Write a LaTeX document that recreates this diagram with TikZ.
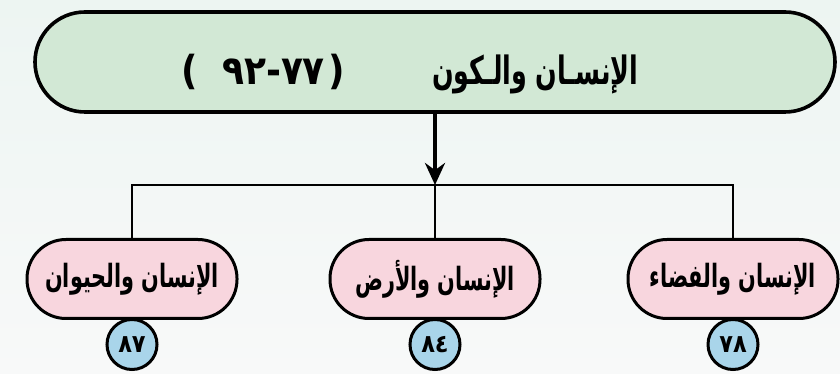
\documentclass[tikz,border=0pt]{standalone}
\usepackage{fontspec}
\newfontfamily\arabicfont[Script=Arabic, FakeStretch=0.65]{DejaVu Sans}
\newfontfamily\arabicnum[Script=Arabic, FakeStretch=0.9]{DejaVu Sans}
\newfontfamily\latinparen[FakeStretch=0.9]{DejaVu Sans}
\TeXXeTstate=1
\usetikzlibrary{arrows.meta, positioning}
\definecolor{kawngreen}{HTML}{D2E8D5}
\definecolor{kawnpink}{HTML}{F8D6DE}
\definecolor{kawnblue}{HTML}{A9D5EA}
\definecolor{kawnbgtop}{HTML}{EDF5F2}
\definecolor{kawnbgbot}{HTML}{F8F9F9}
\tikzset{
  >={Stealth[length=22pt, width=20pt]},
  topic/.style={rectangle, rounded corners=50pt, draw=black, line width=3.6pt,
                fill=kawngreen, minimum width=800pt, minimum height=100pt},
  branch/.style={rectangle, rounded corners=39pt, draw=black, line width=3pt,
                 fill=kawnpink, minimum width=210pt, minimum height=79pt, inner sep=0pt,
                 font=\arabicfont\bfseries\fontsize{32}{34}\selectfont},
  pagedot/.style={circle, draw=black, line width=3pt, fill=kawnblue,
                  minimum size=50pt, inner sep=0pt,
                  font=\arabicnum\bfseries\fontsize{25}{28}\selectfont},
  link/.style={draw=black, line width=2.4pt},
  linkb/.style={->, draw=black, line width=4pt},
}
\begin{document}
\begin{tikzpicture}[x=1pt,y=1pt]
  \shade[top color=kawnbgtop, bottom color=kawnbgbot] (0,0) rectangle (840,374);
  \useasboundingbox (0,0) rectangle (840,374);
  % main topic with page range
  \node[topic] (kawn) at (435,312) {};
  \node[font=\arabicfont\bfseries\fontsize{39}{44}\selectfont, anchor=east]
    (kawntitle) at (642,300) {\beginR الإنسـان والـكون\endR};
  \node[font=\arabicnum\bfseries\fontsize{40}{44}\selectfont, anchor=east]
    (kawnrange) at (349,302)
    {{\latinparen(}\hspace{24pt}٧٧-٩٢\hspace{4pt}{\latinparen)}};
  % three lessons, right to left
  \node[branch] (space) at (733,95) {\beginR الإنسان والفضاء\endR};
  \node[branch] (earth) at (435,95) {\beginR الإنسان والأرض\endR};
  \node[branch] (animal) at (132,95) {\beginR الإنسان والحيوان\endR};
  \foreach \b/\p in {space/٧٨, earth/٨٤, animal/٨٧}{
    \node[pagedot, below=-2pt of \b] (\b-page) {\p};
  }
  \coordinate (hub) at (435,189);
  \draw[link] (animal.north) |- (hub) -| (space.north);
  \draw[link] (hub) -- (earth.north);
  \draw[linkb] (kawn.south) -- (hub);
\end{tikzpicture}
\end{document}
